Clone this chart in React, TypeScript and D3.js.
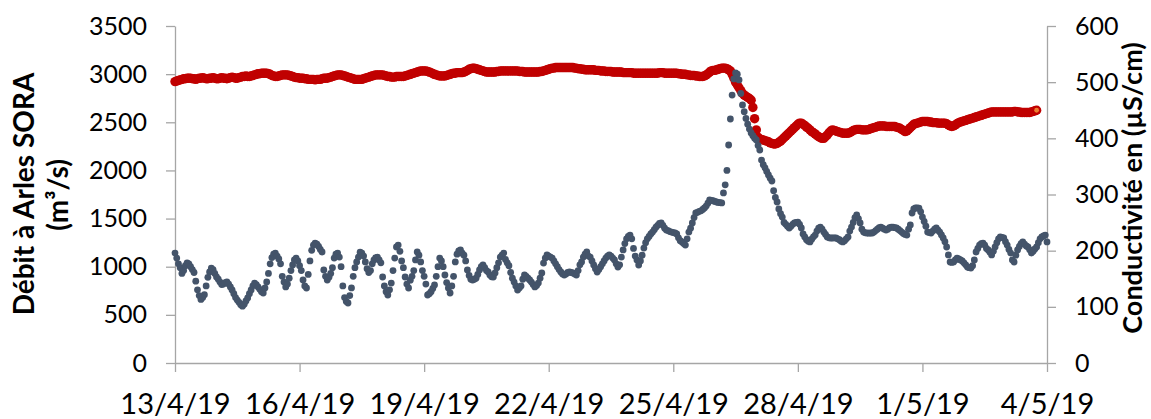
import * as d3 from 'd3'
import React, { useEffect, useRef } from 'react'

// x axis: days since 13/4/19 00h, one label every 3 days
const dateLabels = ['13/4/19', '16/4/19', '19/4/19', '22/4/19', '25/4/19', '28/4/19', '1/5/19', '4/5/19']
const dateTicks = [0, 3, 6, 9, 12, 15, 18, 21]
const debitTicks = [0, 500, 1000, 1500, 2000, 2500, 3000, 3500]
const condTicks = [0, 100, 200, 300, 400, 500, 600]

// hourly discharge (m3/s) from 13/4/19 00h, one row per day
const debit = [
    1142, 1090, 1030, 990, 930, 960, 1010, 1040, 1030, 1000, 970, 940, 850, 760, 700, 660, 680, 710, 800, 890, 945, 986, 970, 930,
    893, 870, 840, 815, 820, 835, 841, 820, 790, 758, 720, 680, 654, 630, 605, 590, 610, 645, 675, 720, 758, 800, 830, 815,
    790, 765, 740, 727, 780, 841, 930, 1030, 1095, 1130, 1142, 1110, 1080, 1030, 900, 840, 790, 820, 880, 960, 1018, 1070, 1090, 1060,
    1010, 960, 862, 800, 779, 920, 1060, 1170, 1225, 1246, 1235, 1210, 1180, 1153, 966, 900, 862, 890, 930, 990, 1090, 1130, 1142, 1100,
    1000, 800, 680, 640, 623, 700, 780, 900, 990, 1049, 1100, 1150, 1140, 1110, 1050, 980, 940, 960, 1030, 1070, 1095, 1100, 1070, 1040,
    893, 800, 740, 706, 760, 830, 960, 1090, 1205, 1225, 1160, 1060, 990, 893, 820, 779, 860, 900, 960, 1070, 1153, 1120, 1050, 960,
    900, 820, 706, 720, 740, 775, 810, 900, 1000, 1090, 1060, 1000, 914, 835, 780, 727, 800, 900, 1050, 1130, 1165, 1174, 1140, 1120,
    1060, 966, 910, 870, 862, 870, 880, 920, 966, 1000, 1018, 990, 960, 945, 915, 895, 893, 935, 990, 1040, 1100, 1120, 1142, 1075,
    1040, 1010, 940, 880, 840, 800, 758, 780, 800, 870, 914, 900, 880, 862, 840, 815, 790, 805, 830, 880, 935, 1038, 1090, 1122,
    1110, 1100, 1090, 1060, 1030, 1000, 970, 945, 925, 914, 925, 940, 945, 940, 935, 925, 914, 960, 1020, 1050, 1100, 1130, 1153, 1110,
    1100, 1060, 1018, 980, 945, 970, 1000, 1030, 1060, 1090, 1110, 1122, 1110, 1090, 1070, 1030, 997, 1020, 1100, 1174, 1240, 1290, 1315, 1329,
    1290, 1190, 1110, 1070, 1018, 1060, 1120, 1194, 1250, 1290, 1315, 1340, 1360, 1385, 1410, 1430, 1450, 1454, 1430, 1400, 1381, 1375, 1365, 1360,
    1355, 1350, 1340, 1300, 1270, 1257, 1240, 1225, 1290, 1360, 1400, 1454, 1510, 1558, 1565, 1575, 1580, 1595, 1610, 1630, 1660, 1693, 1690, 1685,
    1678, 1672, 1668, 1665, 1662, 1766, 1850, 2000, 2264, 2534, 2783, 2950, 3012, 3000, 2940, 2800, 2680, 2610, 2540, 2480, 2430, 2390, 2360, 2335,
    2316, 2260, 2212, 2108, 2060, 2025, 1990, 1953, 1920, 1890, 1790, 1720, 1672, 1600, 1550, 1516, 1460, 1440, 1420, 1402, 1420, 1440, 1454, 1460,
    1464, 1440, 1402, 1340, 1309, 1280, 1265, 1257, 1285, 1310, 1329, 1370, 1400, 1412, 1390, 1360, 1335, 1309, 1300, 1298, 1298, 1300, 1298, 1290,
    1280, 1265, 1257, 1270, 1290, 1309, 1370, 1412, 1460, 1510, 1537, 1500, 1454, 1390, 1360, 1352, 1350, 1348, 1350, 1350, 1360, 1375, 1390, 1405,
    1412, 1400, 1390, 1381, 1390, 1405, 1412, 1410, 1405, 1402, 1390, 1375, 1360, 1345, 1335, 1329, 1390, 1433, 1558, 1600, 1612, 1610, 1608, 1570,
    1516, 1470, 1420, 1360, 1355, 1350, 1370, 1390, 1402, 1380, 1360, 1330, 1298, 1260, 1205, 1122, 1049, 1045, 1050, 1070, 1090, 1080, 1070, 1060,
    1040, 1020, 997, 990, 986, 1010, 1070, 1153, 1190, 1225, 1240, 1246, 1225, 1190, 1174, 1150, 1122, 1160, 1205, 1250, 1290, 1309, 1305, 1298,
    1260, 1225, 1180, 1142, 1070, 1049, 1120, 1174, 1210, 1240, 1257, 1235, 1215, 1205, 1175, 1142, 1160, 1185, 1205, 1250, 1290, 1309, 1320, 1329, 1257,
]

// hourly conductivity (µS/cm) from 13/4/19 00h
const conductivite = [
    501, 502, 503, 504, 505, 506, 506, 507, 507, 507, 506, 506, 505, 506, 507, 507, 508, 507, 506, 506, 507, 507, 508, 507,
    506, 506, 507, 508, 507, 507, 506, 507, 508, 509, 508, 507, 507, 508, 509, 510, 510, 511, 510, 510, 511, 512, 513, 514,
    515, 515, 516, 516, 516, 516, 515, 514, 512, 511, 510, 510, 511, 512, 513, 513, 513, 513, 512, 511, 510, 509, 508, 508,
    507, 507, 507, 506, 506, 505, 505, 505, 505, 504, 505, 505, 505, 506, 507, 507, 507, 508, 509, 510, 511, 512, 513, 513,
    513, 512, 511, 510, 509, 508, 507, 506, 505, 505, 505, 505, 505, 506, 507, 508, 509, 510, 511, 512, 513, 513, 513, 513,
    513, 512, 511, 510, 510, 509, 509, 509, 510, 510, 510, 510, 510, 511, 512, 513, 514, 515, 516, 517, 518, 519, 520, 520,
    520, 520, 519, 518, 517, 515, 514, 513, 512, 511, 511, 511, 511, 512, 513, 514, 515, 516, 516, 517, 517, 517, 517, 518,
    519, 521, 523, 524, 525, 525, 524, 523, 522, 521, 520, 519, 518, 518, 518, 518, 518, 518, 519, 519, 520, 520, 520, 520,
    520, 520, 520, 520, 520, 520, 520, 519, 519, 519, 518, 518, 518, 518, 518, 518, 518, 518, 518, 519, 519, 520, 521, 522,
    523, 524, 525, 525, 526, 526, 526, 526, 526, 526, 526, 526, 526, 526, 526, 525, 525, 524, 524, 523, 523, 522, 522, 522,
    522, 522, 522, 521, 521, 521, 520, 520, 520, 519, 519, 519, 519, 518, 518, 518, 518, 518, 518, 517, 517, 517, 517, 517,
    517, 516, 516, 516, 516, 516, 516, 516, 516, 516, 516, 516, 516, 516, 516, 516, 517, 517, 517, 516, 516, 516, 516, 516,
    516, 516, 516, 515, 515, 514, 514, 514, 513, 513, 512, 512, 512, 511, 511, 510, 510, 510, 511, 513, 515, 518, 520, 521,
    521, 522, 523, 524, 525, 525, 525, 524, 522, 520, 514, 507, 500, 495, 490, 485, 480, 477, 475, 473, 471, 468, 455, 435,
    415, 402, 399, 398, 397, 396, 395, 394, 392, 391, 390, 390, 391, 393, 395, 398, 401, 404, 407, 410, 413, 416, 419, 422,
    425, 427, 427, 425, 423, 420, 418, 415, 412, 410, 408, 405, 403, 401, 400, 400, 403, 406, 410, 413, 415, 414, 413, 412,
    411, 410, 409, 409, 409, 409, 410, 412, 414, 415, 416, 416, 416, 415, 415, 415, 415, 416, 417, 418, 419, 420, 421, 422,
    422, 422, 422, 421, 421, 421, 421, 421, 421, 420, 419, 418, 416, 414, 412, 413, 416, 419, 422, 425, 426, 427, 428, 429,
    430, 430, 430, 430, 429, 429, 428, 428, 428, 427, 427, 427, 427, 427, 426, 424, 422, 421, 422, 424, 426, 428, 429, 430,
    431, 432, 433, 434, 435, 436, 437, 438, 439, 440, 441, 442, 443, 444, 445, 446, 447, 447, 447, 447, 447, 447, 447, 447,
    447, 447, 447, 447, 447, 448, 448, 447, 447, 446, 446, 446, 446, 446, 446, 447, 448, 449, 450,
]

const width = 1151
const height = 419
const font = 'Lato, "Open Sans", sans-serif'
const axisColor = '#a6a6a6'

const App = (): JSX.Element => {
    const ref = useRef<SVGSVGElement>(null)

    useEffect(() => {
        const svg = d3.select(ref.current)
        svg.selectAll('*').remove()

        const x = d3.scaleLinear().domain([0, 21]).range([175, 1047])
        const yL = d3.scaleLinear().domain([0, 3500]).range([363, 26])
        const yR = d3.scaleLinear().domain([0, 600]).range([363, 26])

        // axes
        const styleAxis = (g: any) => {
            g.selectAll('path, line').attr('stroke', axisColor).attr('stroke-width', 1.3)
            g.selectAll('text').attr('fill', '#000').style('font-family', font)
        }

        const gx = svg
            .append('g')
            .attr('transform', 'translate(0,363)')
            .call(
                d3
                    .axisBottom(x)
                    .tickValues(dateTicks)
                    .tickSize(9)
                    .tickSizeOuter(0)
                    .tickFormat((d, i) => dateLabels[i])
            )
        styleAxis(gx)
        gx.selectAll('text').attr('y', 51).attr('dy', 0).style('font-size', '29px')

        const gl = svg
            .append('g')
            .attr('transform', 'translate(175,0)')
            .call(
                d3
                    .axisLeft(yL)
                    .tickValues(debitTicks)
                    .tickSize(9)
                    .tickSizeOuter(0)
                    .tickPadding(19)
                    .tickFormat(d3.format('d'))
            )
        styleAxis(gl)
        gl.selectAll('text').style('font-size', '25px')

        const gr = svg
            .append('g')
            .attr('transform', 'translate(1047,0)')
            .call(
                d3
                    .axisRight(yR)
                    .tickValues(condTicks)
                    .tickSize(9)
                    .tickSizeOuter(0)
                    .tickPadding(19)
                    .tickFormat(d3.format('d'))
            )
        styleAxis(gr)
        gr.selectAll('text').style('font-size', '25px')

        // axis titles
        const title = svg
            .append('g')
            .style('font-family', font)
            .style('font-weight', 700)
            .attr('text-anchor', 'middle')
        title.append('text').attr('transform', 'translate(34,194) rotate(-90)').style('font-size', '28px').text('Débit à Arles SORA')
        title.append('text').attr('transform', 'translate(68,195) rotate(-90)').style('font-size', '28px').text('(m³/s)')
        title
            .append('text')
            .attr('transform', 'translate(1142,188) rotate(-90)')
            .style('font-size', '27px')
            .text('Conductivité en (µS/cm)')

        // conductivity dots
        svg.append('g')
            .selectAll('circle')
            .data(conductivite)
            .enter()
            .append('circle')
            .attr('cx', (d, i) => x(i / 24))
            .attr('cy', (d) => yR(d))
            .attr('r', 4.7)
            .attr('fill', '#c00000')

        const last = conductivite.length - 1
        svg.append('circle')
            .attr('cx', x(last / 24))
            .attr('cy', yR(conductivite[last]))
            .attr('r', 2.4)
            .attr('fill', '#ed7d31')

        // discharge dots
        svg.append('g')
            .selectAll('circle')
            .data(debit)
            .enter()
            .append('circle')
            .attr('cx', (d, i) => x(i / 24))
            .attr('cy', (d) => yL(d))
            .attr('r', 3.4)
            .attr('fill', '#44546a')
    }, [])

    return (
        <svg
            ref={ref}
            width={width}
            height={height}
            style={{ position: 'absolute', left: 0, top: 0, background: '#fff' }}
        />
    )
}

export default App
